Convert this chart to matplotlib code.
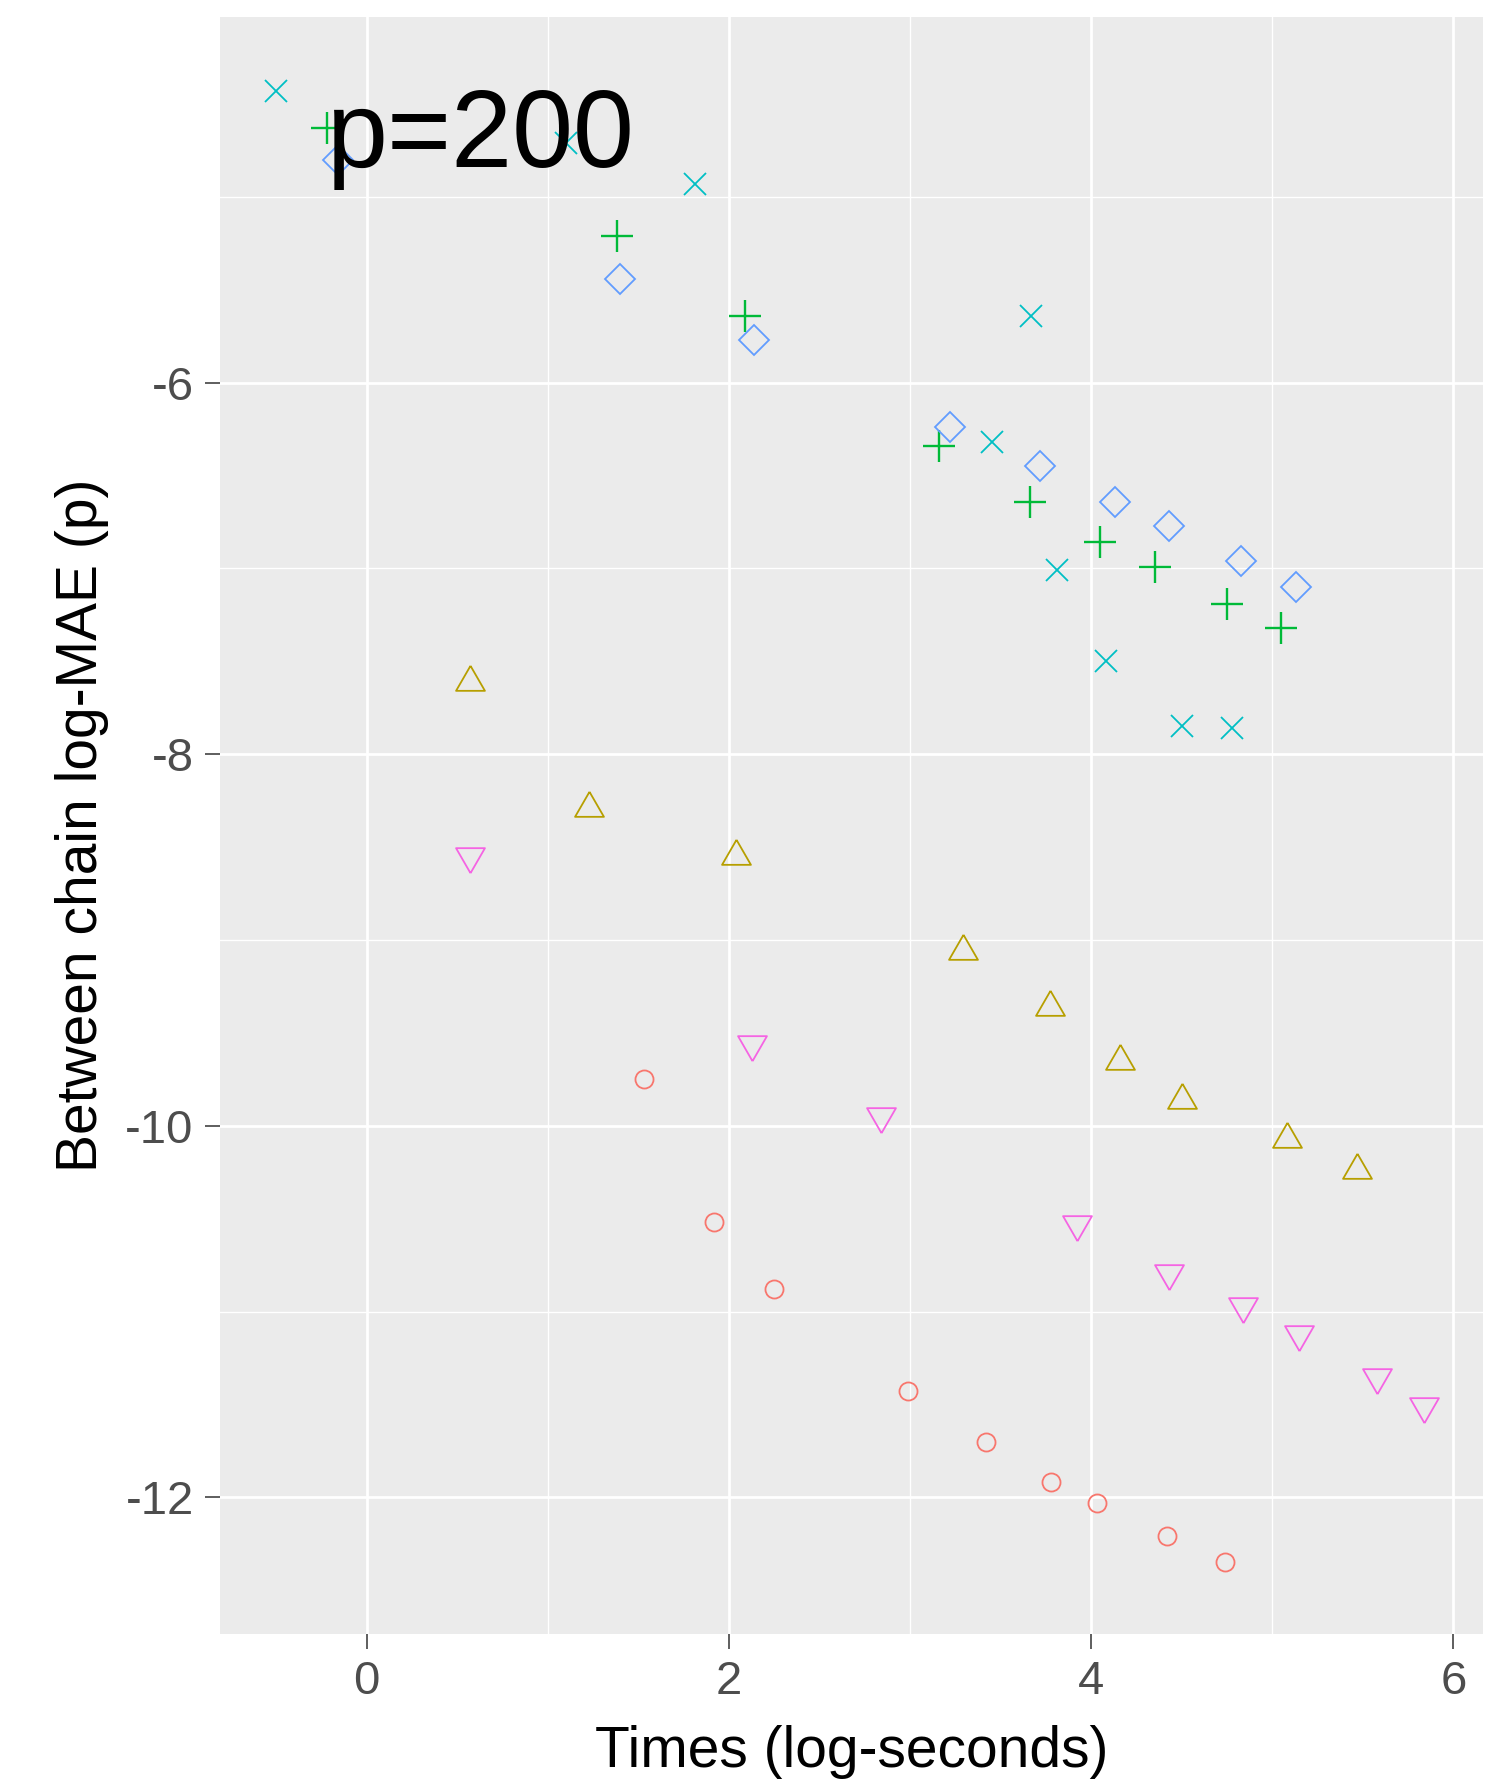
import matplotlib
matplotlib.use('Agg')
import matplotlib.pyplot as plt

plt.rcParams['font.family'] = ['Liberation Sans', 'DejaVu Sans']
plt.rcParams['axes.unicode_minus'] = False

# times (log-seconds) and between chain log-MAE, one pair of lists per method
x_circle = [1.53, 1.92, 2.25, 2.99, 3.42, 3.78, 4.03, 4.42, 4.74]
y_circle = [-9.75, -10.52, -10.88, -11.43, -11.70, -11.92, -12.03, -12.21, -12.35]

x_tri = [0.57, 1.23, 2.04, 3.29, 3.77, 4.16, 4.50, 5.08, 5.47]
y_tri = [-7.61, -8.29, -8.55, -9.06, -9.36, -9.65, -9.86, -10.07, -10.24]

x_plus = [-0.22, 1.38, 2.09, 3.16, 3.66, 4.05, 4.35, 4.75, 5.05]
y_plus = [-4.63, -5.21, -5.64, -6.34, -6.64, -6.86, -6.99, -7.19, -7.32]

x_cross = [-0.50, 1.10, 1.81, 3.67, 3.45, 3.81, 4.08, 4.50, 4.78]
y_cross = [-4.43, -4.71, -4.93, -5.64, -6.32, -7.01, -7.50, -7.85, -7.86]

x_diam = [-0.16, 1.40, 2.14, 3.22, 3.72, 4.13, 4.43, 4.83, 5.13]
y_diam = [-4.80, -5.44, -5.77, -6.24, -6.45, -6.64, -6.77, -6.96, -7.10]

x_down = [0.57, 2.13, 2.84, 3.92, 4.43, 4.84, 5.15, 5.58, 5.84]
y_down = [-8.55, -9.56, -9.95, -10.53, -10.79, -10.97, -11.12, -11.35, -11.51]

x_ticks = [0, 2, 4, 6]
y_ticks = [-12, -10, -8, -6]
x_minor = [1, 3, 5]
y_minor = [-11, -9, -7, -5]

up_tri = [(0, 1), (-0.866, -0.5), (0.866, -0.5), (0, 1)]
down_tri = [(0, -1), (-0.866, 0.5), (0.866, 0.5), (0, -1)]

fig = plt.figure(figsize=(15.02, 17.86), dpi=100)
ax = fig.add_axes([0.1465, 0.0851, 0.8409, 0.9054])
ax.set_facecolor('#EBEBEB')
for s in ax.spines.values():
    s.set_visible(False)

lw = 1.3
ax.plot(x_circle, y_circle, ls='none', marker='o', ms=13, mfc='none', mec='#F8766D', mew=lw)
ax.plot(x_tri, y_tri, ls='none', marker=up_tri, ms=24, mfc='none', mec='#B79F00', mew=lw)
ax.plot(x_plus, y_plus, ls='none', marker='+', ms=23, mec='#00BA38', mew=lw + 0.4)
ax.plot(x_cross, y_cross, ls='none', marker='x', ms=16, mec='#00BFC4', mew=lw)
ax.plot(x_diam, y_diam, ls='none', marker='D', ms=15.5, mfc='none', mec='#619CFF', mew=lw)
ax.plot(x_down, y_down, ls='none', marker=down_tri, ms=24, mfc='none', mec='#F564E3', mew=lw)

ax.text(0.63, -4.84, 'p=200', fontsize=79, ha='center', va='baseline', color='black')

ax.set_xticks(x_ticks)
ax.set_yticks(y_ticks)
ax.set_xticks(x_minor, minor=True)
ax.set_yticks(y_minor, minor=True)
ax.set_xlim(-0.81, 6.164)
ax.set_ylim(-12.736, -4.031)
ax.grid(which='major', color='white', lw=2.0)
ax.grid(which='minor', color='white', lw=1.0)
ax.set_axisbelow(True)
ax.tick_params(which='major', length=11, width=1.1, color='#333333',
               labelsize=34, labelcolor='#4D4D4D', pad=8)
ax.tick_params(which='minor', length=0)

ax.set_xlabel('Times (log-seconds)', fontsize=41, labelpad=15)
ax.set_ylabel('Between chain log-MAE (p)', fontsize=41, labelpad=12)

plt.savefig('out.png', dpi=100)
plt.close()
